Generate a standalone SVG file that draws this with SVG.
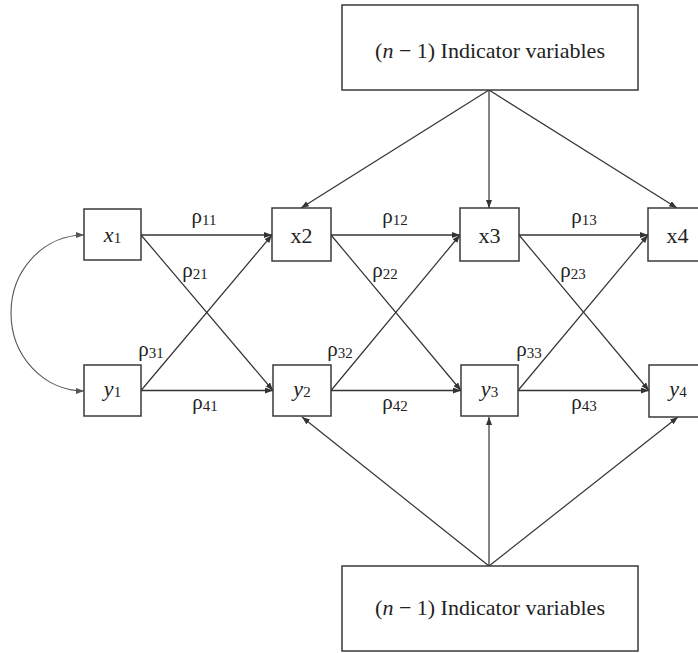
<svg xmlns="http://www.w3.org/2000/svg" width="698" height="653" viewBox="0 0 698 653">
<defs>
<style>
.box{fill:#fff;stroke:#3a3a3a;stroke-width:1.5}
.t{font-family:"Liberation Serif","Times New Roman",serif;font-size:22px;fill:#222;text-anchor:middle}
.sub{font-size:15px}
.it{font-style:italic}
.lab{font-family:"Liberation Serif","Times New Roman",serif;font-size:21px;fill:#222;text-anchor:middle}
.e{fill:none;stroke:#333;stroke-width:1.2;marker-end:url(#ah)}
.h{stroke-width:1.6}
.curve{fill:none;stroke:#555;stroke-width:1.1;marker-start:url(#ah2);marker-end:url(#ah2)}
</style>
<marker id="ah" markerUnits="userSpaceOnUse" markerWidth="9" markerHeight="7" refX="8" refY="3" orient="auto">
<path d="M0,0 L8,3 L0,6 z" fill="#333"/>
</marker>
<marker id="ah2" markerUnits="userSpaceOnUse" markerWidth="9" markerHeight="7" refX="8" refY="3" orient="auto-start-reverse">
<path d="M0,0 L8,3 L0,6 z" fill="#555"/>
</marker>
</defs>
<rect width="698" height="653" fill="#fff"/>

<g id="connectors">
<!-- top indicator to x nodes -->
<line class="e" x1="489" y1="90" x2="301" y2="208"/>
<line class="e" x1="489" y1="90" x2="489" y2="208"/>
<line class="e" x1="489" y1="90" x2="677" y2="208"/>
<!-- bottom indicator to y nodes -->
<line class="e" x1="489" y1="566" x2="302" y2="417"/>
<line class="e" x1="489" y1="566" x2="489" y2="417"/>
<line class="e" x1="489" y1="566" x2="678" y2="417"/>
<!-- horizontals -->
<line class="e h" x1="141" y1="235" x2="272" y2="235"/>
<line class="e h" x1="331" y1="235" x2="460" y2="235"/>
<line class="e h" x1="519" y1="235" x2="648" y2="235"/>
<line class="e h" x1="141" y1="390.5" x2="273" y2="390.5"/>
<line class="e h" x1="331" y1="390.5" x2="461" y2="390.5"/>
<line class="e h" x1="518" y1="390.5" x2="649" y2="390.5"/>
<!-- diagonals -->
<line class="e" x1="141" y1="235" x2="273" y2="390.5"/>
<line class="e" x1="141" y1="390.5" x2="272" y2="235"/>
<line class="e" x1="331" y1="235" x2="461" y2="390.5"/>
<line class="e" x1="331" y1="390.5" x2="460" y2="235"/>
<line class="e" x1="519" y1="235" x2="649" y2="390.5"/>
<line class="e" x1="518" y1="390.5" x2="648" y2="235"/>
<!-- correlation curve -->
<path class="curve" d="M84,235 A73,78 0 0 0 84,391"/>
</g>

<g id="labels">
<text class="lab" x="204" y="223">ρ<tspan class="sub" dy="2">11</tspan></text>
<text class="lab" x="395" y="223">ρ<tspan class="sub" dy="2">12</tspan></text>
<text class="lab" x="584" y="223">ρ<tspan class="sub" dy="2">13</tspan></text>
<text class="lab" x="195" y="277">ρ<tspan class="sub" dy="2">21</tspan></text>
<text class="lab" x="385" y="277">ρ<tspan class="sub" dy="2">22</tspan></text>
<text class="lab" x="573" y="277">ρ<tspan class="sub" dy="2">23</tspan></text>
<text class="lab" x="151" y="356">ρ<tspan class="sub" dy="2">31</tspan></text>
<text class="lab" x="340" y="356">ρ<tspan class="sub" dy="2">32</tspan></text>
<text class="lab" x="529" y="356">ρ<tspan class="sub" dy="2">33</tspan></text>
<text class="lab" x="205" y="409">ρ<tspan class="sub" dy="2">41</tspan></text>
<text class="lab" x="395" y="409">ρ<tspan class="sub" dy="2">42</tspan></text>
<text class="lab" x="584" y="409">ρ<tspan class="sub" dy="2">43</tspan></text>
</g>

<g id="ind-top">
<rect class="box" x="342" y="5" width="296" height="85"/>
<text class="t" x="490" y="58">(<tspan class="it">n</tspan> − 1) Indicator variables</text>
</g>
<g id="ind-bottom">
<rect class="box" x="342" y="566" width="296" height="85"/>
<text class="t" x="490" y="615">(<tspan class="it">n</tspan> − 1) Indicator variables</text>
</g>

<g id="x1">
<rect class="box" x="84" y="209" width="57" height="51"/>
<text class="t" x="112.5" y="242"><tspan class="it">x</tspan><tspan class="sub" dy="1">1</tspan></text>
</g>
<g id="x2">
<rect class="box" x="272" y="208" width="59" height="53"/>
<text class="t" x="301.5" y="243">x2</text>
</g>
<g id="x3">
<rect class="box" x="460" y="208" width="59" height="53"/>
<text class="t" x="489.5" y="243">x3</text>
</g>
<g id="x4">
<rect class="box" x="648" y="208" width="59" height="53"/>
<text class="t" x="677.5" y="243">x4</text>
</g>
<g id="y1">
<rect class="box" x="84" y="365" width="57" height="51"/>
<text class="t" x="112.5" y="396"><tspan class="it">y</tspan><tspan class="sub" dy="1">1</tspan></text>
</g>
<g id="y2">
<rect class="box" x="273" y="365" width="58" height="51"/>
<text class="t" x="302" y="396"><tspan class="it">y</tspan><tspan class="sub" dy="1">2</tspan></text>
</g>
<g id="y3">
<rect class="box" x="461" y="365" width="57" height="51"/>
<text class="t" x="489.5" y="396"><tspan class="it">y</tspan><tspan class="sub" dy="1">3</tspan></text>
</g>
<g id="y4">
<rect class="box" x="649" y="365" width="58" height="52"/>
<text class="t" x="678" y="396"><tspan class="it">y</tspan><tspan class="sub" dy="1">4</tspan></text>
</g>
</svg>
